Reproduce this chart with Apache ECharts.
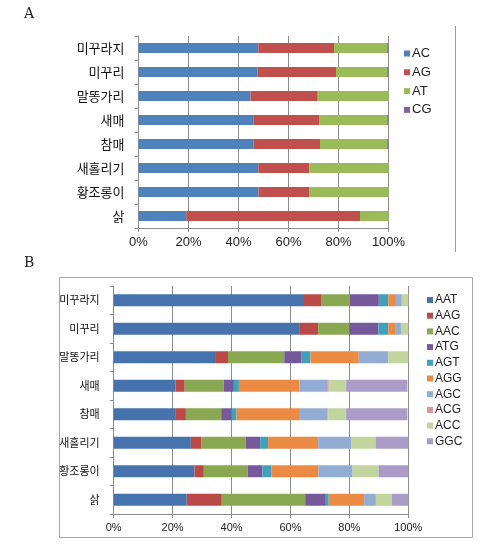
<!DOCTYPE html>
<html><head><meta charset="utf-8">
<script src="https://cdn.jsdelivr.net/npm/echarts@6/dist/echarts.min.js"></script>
<style>html,body{margin:0;padding:0;background:#fff}#c{width:489px;height:545px}</style>
</head><body><div id="c"></div>
<script>
const categories = ['미꾸라지','미꾸리','말똥가리','새매','참매','새홀리기','황조롱이','삵'];
const xTicks = ['0%','20%','40%','60%','80%','100%'];
// Chart A (dinucleotide repeats, %)
const namesA = ['AC','AG','AT','CG'];
const AC = [47.9, 47.7, 44.8, 45.9, 46.1, 47.9, 48.0, 19.1];
const AG = [30.3, 31.3, 26.9, 26.3, 26.5, 20.4, 20.2, 69.5];
const AT = [21.3, 20.5, 28.3, 27.3, 26.9, 31.7, 31.8, 11.4];
const CG = [0.5, 0.5, 0.0, 0.5, 0.5, 0.0, 0.0, 0.0];
// Chart B (trinucleotide repeats, %)
const namesB = ['AAT','AAG','AAC','ATG','AGT','AGG','AGC','ACG','ACC','GGC'];
const AAT = [64.6, 63.2, 34.7, 21.0, 21.1, 26.2, 27.4, 24.8];
const AAG = [6.0, 6.2, 4.1, 3.1, 3.4, 3.6, 3.2, 11.9];
const AAC = [9.6, 10.6, 19.1, 13.2, 12.0, 15.0, 14.9, 28.3];
const ATG = [9.8, 9.8, 5.9, 3.5, 3.6, 4.9, 5.0, 7.0];
const AGT = [3.2, 3.4, 3.0, 1.7, 1.6, 2.7, 3.1, 1.0];
const AGG = [2.6, 2.3, 16.4, 20.6, 21.2, 17.0, 15.9, 12.0];
const AGC = [2.0, 2.0, 10.0, 9.6, 9.7, 11.3, 11.6, 4.0];
const ACG = [0.0, 0.0, 0.0, 0.3, 0.3, 0.0, 0.0, 0.0];
const ACC = [2.2, 2.5, 6.8, 5.9, 6.0, 8.2, 8.8, 5.4];
const GGC = [0.0, 0.0, 0.0, 20.8, 20.8, 11.1, 10.1, 5.6];

const dataA = [AC, AG, AT, CG];
const dataB = [AAT, AAG, AAC, ATG, AGT, AGG, AGC, ACG, ACC, GGC];
const colorsA = ['#4f81bd','#c0504d','#9bbb59','#8064a2'];
const colorsB = ['#4673ad','#b94a47','#8aa851','#76599b','#40a1bc','#eb8a42','#92acd4','#d99694','#c1d59c','#aa9cc6'];
const font = '"Noto Sans CJK KR", "Noto Sans", sans-serif';

function xAxis(gi, size){
  return {type:'value', gridIndex:gi, min:0, max:100, interval:20,
    axisLabel:{formatter:v=>xTicks[v/20], fontSize:size, color:'#222', fontFamily:'Arial, "Liberation Sans", sans-serif', margin:8},
    axisLine:{show:true, lineStyle:{color:'#8c8c8c'}}, axisTick:{show:true, length:4, inside:false, lineStyle:{color:'#8c8c8c'}},
    splitLine:{show:true, lineStyle:{color:'#8c8c8c', width:1}}};
}
function yAxis(gi, size){
  return {type:'category', gridIndex:gi, data:categories, inverse:true,
    axisLabel:{fontSize:size, color:'#111', fontFamily:font, margin:14},
    axisLine:{show:true, lineStyle:{color:'#8c8c8c'}},
    axisTick:{show:true, length:4, lineStyle:{color:'#8c8c8c'}}, splitLine:{show:false}};
}
const series = [];
namesA.forEach((n,i)=>series.push({name:n, type:'bar', stack:'A', xAxisIndex:0, yAxisIndex:0,
  barWidth:10, data:dataA[i], itemStyle:{color:colorsA[i]}}));
namesB.forEach((n,i)=>series.push({name:n, type:'bar', stack:'B', xAxisIndex:1, yAxisIndex:1,
  barWidth:12, data:dataB[i], itemStyle:{color:colorsB[i]}}));

const chart = echarts.init(document.getElementById('c'), null, {renderer:'canvas'});
chart.setOption({
  animation:false,
  grid:[
    {left:138.5, top:36, width:250, height:192, containLabel:false},
    {left:113.7, top:286, width:294.6, height:228, containLabel:false}
  ],
  xAxis:[xAxis(0,13), xAxis(1,11)],
  yAxis:[yAxis(0,13), yAxis(1,11)],
  legend:[
    {data:namesA, orient:'vertical', left:399, top:42, itemWidth:6, itemHeight:6, itemGap:5.8, icon:'rect',
     textStyle:{fontSize:13, color:'#222', fontFamily:'Arial, "Liberation Sans", sans-serif', padding:[0,0,0,-3]}},
    {data:namesB, orient:'vertical', left:422, top:289, itemWidth:6, itemHeight:6, itemGap:3.7, icon:'rect',
     textStyle:{fontSize:12, color:'#222', fontFamily:'Arial, "Liberation Sans", sans-serif', padding:[0,0,0,-3]}}
  ],
  graphic:[
    {type:'text', left:24, top:7, style:{text:'A', font:'14px "DejaVu Serif", serif', fill:'#222'}},
    {type:'text', left:24, top:256, style:{text:'B', font:'14px "DejaVu Serif", serif', fill:'#222'}},
    {type:'line', shape:{x1:455.5, y1:26, x2:455.5, y2:252}, style:{stroke:'#9a9a9a', lineWidth:1}},
    {type:'rect', shape:{x:59.5, y:277.5, width:413, height:260}, style:{fill:'none', stroke:'#a6a6a6', lineWidth:1}}
  ],
  series:series
});
</script></body></html>
